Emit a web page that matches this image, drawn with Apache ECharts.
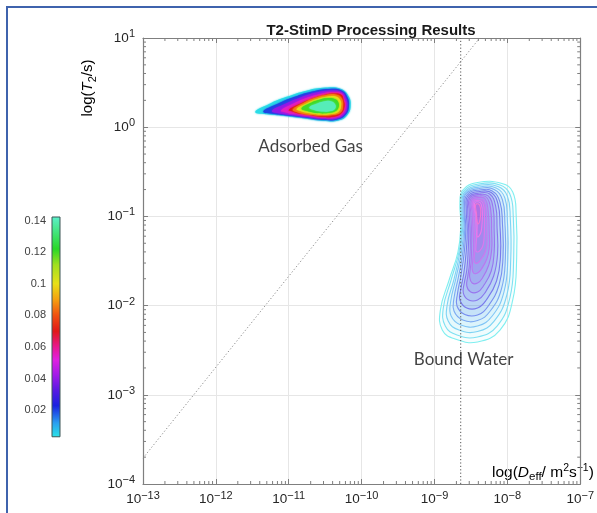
<!DOCTYPE html>
<html><head><meta charset="utf-8">
<script src="https://cdn.jsdelivr.net/npm/echarts@6/dist/echarts.min.js"></script>
<style>html,body{margin:0;padding:0;background:#fff}#c{width:597px;height:513px}</style>
</head><body><div id="c"></div>
<script>
// ---------------- data ----------------
const xDecades = [-13, -12, -11, -10, -9, -8, -7];      // log10(Deff) tick exponents
const yDecades = [-4, -3, -2, -1, 0, 1];                // log10(T2) tick exponents
const colorbarTicks = [0.02, 0.04, 0.06, 0.08, 0.1, 0.12, 0.14];
const colorbarRange = [0.003, 0.1425];
const colormapStops = [
  [0.003, '#2ae4e6'], [0.012, '#2a9ff0'], [0.023, '#1a22e0'], [0.033, '#5a1ae2'],
  [0.042, '#a01ae8'], [0.052, '#e020e0'], [0.060, '#e81890'], [0.070, '#e01818'],
  [0.080, '#f05010'], [0.090, '#f5a010'], [0.100, '#e8e018'], [0.112, '#a0e020'],
  [0.122, '#28d828'], [0.1425, '#5cf0cc']
];

// Adsorbed gas: filled contour levels, outlines in [log10 D, log10 T2]
const gasLevels = [0.004, 0.02, 0.04, 0.055, 0.07, 0.085, 0.1, 0.12, 0.14];
const gasContours = [
  [[-11.46,0.17],[-11.27,0.26],[-11.03,0.34],[-10.76,0.41],[-10.49,0.445],[-10.29,0.43],[-10.18,0.35],[-10.15,0.24],[-10.195,0.137],[-10.315,0.075],[-10.52,0.07],[-10.785,0.098],[-11.054,0.126],[-11.27,0.142]],
  [[-11.35,0.176],[-11.16,0.26],[-10.92,0.34],[-10.68,0.40],[-10.45,0.428],[-10.275,0.411],[-10.195,0.339],[-10.174,0.238],[-10.215,0.142],[-10.33,0.087],[-10.52,0.081],[-10.785,0.109],[-11.027,0.131],[-11.2,0.148]],
  [[-11.23,0.182],[-11.054,0.26],[-10.84,0.333],[-10.624,0.389],[-10.423,0.411],[-10.275,0.395],[-10.215,0.327],[-10.195,0.238],[-10.235,0.148],[-10.342,0.098],[-10.517,0.092],[-10.758,0.114],[-10.987,0.137],[-11.12,0.154]],
  [[-11.107,0.187],[-10.946,0.26],[-10.758,0.327],[-10.57,0.372],[-10.396,0.395],[-10.275,0.378],[-10.235,0.316],[-10.215,0.238],[-10.255,0.154],[-10.356,0.109],[-10.517,0.103],[-10.745,0.126],[-10.946,0.148],[-11.04,0.165]],
  [[-11.0,0.193],[-10.852,0.26],[-10.691,0.316],[-10.517,0.361],[-10.369,0.378],[-10.275,0.361],[-10.248,0.305],[-10.235,0.238],[-10.275,0.159],[-10.369,0.12],[-10.517,0.114],[-10.718,0.137],[-10.893,0.159],[-10.946,0.176]],
  [[-10.946,0.198],[-10.812,0.266],[-10.651,0.327],[-10.49,0.361],[-10.356,0.367],[-10.275,0.327],[-10.255,0.238],[-10.289,0.165],[-10.396,0.137],[-10.57,0.131],[-10.758,0.142],[-10.893,0.17]],
  [[-10.893,0.204],[-10.758,0.266],[-10.611,0.316],[-10.463,0.344],[-10.356,0.344],[-10.295,0.305],[-10.282,0.238],[-10.315,0.176],[-10.409,0.148],[-10.57,0.142],[-10.732,0.159],[-10.839,0.182]],
  [[-10.826,0.21],[-10.705,0.271],[-10.57,0.311],[-10.45,0.327],[-10.369,0.316],[-10.322,0.283],[-10.315,0.226],[-10.356,0.182],[-10.463,0.159],[-10.611,0.159],[-10.745,0.182]],
  [[-10.718,0.221],[-10.611,0.266],[-10.49,0.294],[-10.409,0.288],[-10.362,0.254],[-10.362,0.21],[-10.423,0.182],[-10.544,0.176],[-10.651,0.193]]
];

// Bound water: line contour levels, outlines in [log10 D, log10 T2]
const waterLevels = [0.003, 0.006, 0.009, 0.012, 0.016, 0.020, 0.024, 0.028, 0.032, 0.036, 0.040, 0.044, 0.048, 0.052, 0.056];
const waterContours = [
  [[-8.611,-0.704],[-8.409,-0.620],[-8.074,-0.631],[-7.926,-0.726],[-7.879,-0.984],[-7.872,-1.466],[-7.926,-1.937],[-8.101,-2.274],[-8.409,-2.408],[-8.718,-2.374],[-8.893,-2.274],[-8.919,-2.049],[-8.799,-1.713],[-8.678,-1.399],[-8.638,-1.096],[-8.651,-0.850]],
  [[-8.597,-0.715],[-8.396,-0.637],[-8.101,-0.648],[-7.966,-0.749],[-7.919,-0.996],[-7.913,-1.466],[-7.966,-1.915],[-8.141,-2.229],[-8.409,-2.352],[-8.691,-2.330],[-8.852,-2.229],[-8.879,-2.027],[-8.772,-1.713],[-8.664,-1.399],[-8.624,-1.096],[-8.638,-0.861]],
  [[-8.584,-0.726],[-8.396,-0.654],[-8.128,-0.665],[-8.000,-0.771],[-7.960,-1.018],[-7.953,-1.466],[-8.007,-1.881],[-8.181,-2.173],[-8.409,-2.291],[-8.664,-2.274],[-8.812,-2.173],[-8.826,-1.993],[-8.732,-1.702],[-8.651,-1.399],[-8.611,-1.108],[-8.624,-0.872]],
  [[-8.577,-0.738],[-8.383,-0.670],[-8.154,-0.682],[-8.034,-0.794],[-8.000,-1.040],[-7.993,-1.466],[-8.047,-1.848],[-8.208,-2.117],[-8.409,-2.229],[-8.638,-2.217],[-8.772,-2.117],[-8.779,-1.960],[-8.705,-1.691],[-8.631,-1.399],[-8.597,-1.119],[-8.611,-0.883]],
  [[-8.570,-0.749],[-8.383,-0.687],[-8.181,-0.698],[-8.067,-0.816],[-8.034,-1.063],[-8.027,-1.466],[-8.081,-1.814],[-8.235,-2.061],[-8.409,-2.167],[-8.611,-2.161],[-8.732,-2.061],[-8.732,-1.915],[-8.671,-1.679],[-8.611,-1.399],[-8.584,-1.130],[-8.597,-0.895]],
  [[-8.557,-0.760],[-8.383,-0.704],[-8.208,-0.715],[-8.101,-0.839],[-8.067,-1.085],[-8.060,-1.466],[-8.114,-1.769],[-8.262,-2.004],[-8.409,-2.105],[-8.584,-2.100],[-8.691,-2.004],[-8.685,-1.870],[-8.638,-1.668],[-8.591,-1.399],[-8.570,-1.141],[-8.584,-0.906]],
  [[-8.544,-0.771],[-8.383,-0.721],[-8.221,-0.732],[-8.128,-0.861],[-8.101,-1.108],[-8.094,-1.444],[-8.148,-1.724],[-8.289,-1.937],[-8.409,-2.027],[-8.557,-2.027],[-8.651,-1.937],[-8.638,-1.814],[-8.597,-1.635],[-8.564,-1.388],[-8.550,-1.152],[-8.564,-0.917]],
  [[-8.530,-0.783],[-8.383,-0.738],[-8.242,-0.749],[-8.161,-0.883],[-8.141,-1.130],[-8.134,-1.422],[-8.188,-1.668],[-8.309,-1.859],[-8.409,-1.937],[-8.530,-1.937],[-8.604,-1.859],[-8.591,-1.747],[-8.557,-1.601],[-8.537,-1.377],[-8.530,-1.164],[-8.544,-0.928]],
  [[-8.517,-0.794],[-8.383,-0.754],[-8.262,-0.771],[-8.195,-0.906],[-8.181,-1.152],[-8.181,-1.399],[-8.221,-1.612],[-8.329,-1.780],[-8.409,-1.848],[-8.503,-1.848],[-8.557,-1.780],[-8.544,-1.679],[-8.523,-1.556],[-8.510,-1.365],[-8.510,-1.175],[-8.523,-0.939]],
  [[-8.503,-0.805],[-8.383,-0.771],[-8.282,-0.788],[-8.228,-0.928],[-8.215,-1.175],[-8.215,-1.377],[-8.255,-1.545],[-8.342,-1.691],[-8.409,-1.747],[-8.483,-1.747],[-8.517,-1.679],[-8.510,-1.601],[-8.497,-1.500],[-8.490,-1.354],[-8.490,-1.186],[-8.503,-0.951]],
  [[-8.490,-0.816],[-8.383,-0.788],[-8.302,-0.805],[-8.262,-0.951],[-8.248,-1.175],[-8.248,-1.354],[-8.282,-1.478],[-8.356,-1.590],[-8.409,-1.635],[-8.463,-1.635],[-8.483,-1.578],[-8.477,-1.511],[-8.470,-1.433],[-8.463,-1.332],[-8.470,-1.197],[-8.483,-0.962]],
  [[-8.477,-0.827],[-8.383,-0.805],[-8.322,-0.827],[-8.289,-0.962],[-8.282,-1.175],[-8.282,-1.321],[-8.309,-1.410],[-8.369,-1.489],[-8.409,-1.522],[-8.443,-1.522],[-8.456,-1.478],[-8.450,-1.422],[-8.443,-1.365],[-8.443,-1.298],[-8.450,-1.209],[-8.463,-0.973]],
  [[-8.463,-0.839],[-8.383,-0.822],[-8.336,-0.850],[-8.315,-0.973],[-8.315,-1.152],[-8.322,-1.265],[-8.342,-1.343],[-8.383,-1.388],[-8.409,-1.399],[-8.430,-1.388],[-8.430,-1.332],[-8.423,-1.242],[-8.430,-1.119],[-8.443,-0.984]],
  [[-8.450,-0.855],[-8.389,-0.839],[-8.356,-0.872],[-8.342,-0.973],[-8.349,-1.096],[-8.362,-1.175],[-8.389,-1.220],[-8.409,-1.231],[-8.416,-1.209],[-8.416,-1.152],[-8.416,-1.085],[-8.430,-0.984]],
  [[-8.436,-0.872],[-8.396,-0.861],[-8.369,-0.906],[-8.369,-0.996],[-8.383,-1.063],[-8.403,-1.085],[-8.416,-1.052],[-8.423,-0.973]]
];

const diagonalLine = [[-13, -3.71], [-8.38, 1]];   // [log10 D, log10 T2]
const verticalLine = [[-8.64, -4], [-8.64, 1]];
const annotations = [
  { text: 'Adsorbed Gas', logD: -10.70, logT2: -0.22 },
  { text: 'Bound Water', logD: -8.60, logT2: -2.60 }
];

// ---------------- helpers ----------------
const P = e => Math.pow(10, e);
function rgbOf(c){
  if (c[0] === '#') return [parseInt(c.substr(1,2),16), parseInt(c.substr(3,2),16), parseInt(c.substr(5,2),16)];
  return c.replace(/[^\d,]/g, '').split(',').map(Number);
}
function mix(c1, c2, t){
  const a = rgbOf(c1), b = rgbOf(c2);
  return 'rgb(' + a.map((x, k) => Math.round(x + (b[k] - x) * t)).join(',') + ')';
}
function withAlpha(c, a){ return 'rgba(' + rgbOf(c).join(',') + ',' + a + ')'; }
function cmap(v){
  const s = colormapStops;
  if (v <= s[0][0]) return s[0][1];
  for (let i = 1; i < s.length; i++) {
    if (v <= s[i][0]) return mix(s[i-1][1], s[i][1], (v - s[i-1][0]) / (s[i][0] - s[i-1][0]));
  }
  return s[s.length-1][1];
}
const FONT = '"Liberation Sans", Arial, Helvetica, sans-serif';
const AX = '#7f7f7f';
const TXT = '#262626';
const expRich = {
  b: { fontSize: 13.5, fontFamily: FONT, color: TXT, lineHeight: 19 },
  s: { fontSize: 11, fontFamily: FONT, color: TXT, verticalAlign: 'top', lineHeight: 9 }
};
const expFmt = v => '{b|10}{s|' + String(Math.round(Math.log10(v))).replace('-', '\u2212') + '}';

function contourSeries(contours, levels, mode, z){
  return {
    type: 'custom', xAxisIndex: 0, yAxisIndex: 0, z: z, clip: true, silent: true,
    data: contours.map((c, i) => [P(c[0][0]), P(c[0][1]), i]),
    encode: { x: 0, y: 1 },
    renderItem: (params, api) => {
      const i = api.value(2);
      const pts = contours[i].map(p => api.coord([P(p[0]), P(p[1])]));
      const col = cmap(levels[i]);
      const style = mode === 'fill'
        ? { fill: col, shadowBlur: 2, shadowColor: col }
        : { fill: withAlpha(col, 0.035 + 0.005 * i), stroke: mix(col, '#ffffff', 0.4), lineWidth: 1.1 };
      return { type: 'polygon', shape: { points: pts, smooth: 0.45 }, style: style };
    }
  };
}

const xMinor = [], yMinor = [];
xDecades.slice(0, -1).forEach(d => { for (let m = 2; m <= 9; m++) xMinor.push([m * P(d), 1]); });
yDecades.slice(0, -1).forEach(d => { for (let m = 2; m <= 9; m++) yMinor.push([1e-10, m * P(d)]); });

function minorTickSeries(data, dir){
  return {
    type: 'custom', xAxisIndex: 0, yAxisIndex: 0, z: 5, silent: true, clip: false,
    data: data, encode: { x: 0, y: 1 },
    renderItem: (params, api) => {
      const p = api.coord([api.value(0), api.value(1)]);
      const cs = params.coordSys, st = { stroke: AX, lineWidth: 1 };
      if (dir === 'x') return { type: 'group', children: [
        { type: 'line', shape: { x1: p[0], y1: cs.y + cs.height, x2: p[0], y2: cs.y + cs.height - 3 }, style: st },
        { type: 'line', shape: { x1: p[0], y1: cs.y, x2: p[0], y2: cs.y + 3 }, style: st } ] };
      return { type: 'group', children: [
        { type: 'line', shape: { x1: cs.x, y1: p[1], x2: cs.x + 3, y2: p[1] }, style: st },
        { type: 'line', shape: { x1: cs.x + cs.width, y1: p[1], x2: cs.x + cs.width - 3, y2: p[1] }, style: st } ] };
    }
  };
}

const logAxisBase = (min, max) => ({
  type: 'log', logBase: 10, min: min, max: max, gridIndex: 0, splitNumber: 6,
  axisLine: { show: true, lineStyle: { color: AX, width: 1.2 } },
  axisTick: { show: true, inside: true, length: 5, lineStyle: { color: AX } },
  minorTick: { show: false }
});

const chart = echarts.init(document.getElementById('c'), null, { renderer: 'canvas' });
chart.setOption({
  animation: false,
  backgroundColor: '#fff',
  title: {
    text: 'T2-StimD Processing Results', left: 366, top: 18, textAlign: 'center',
    textStyle: { fontFamily: FONT, fontWeight: 'bold', fontSize: 15, color: '#1a1a1a' }
  },
  grid: [
    { left: 143, top: 38, width: 446, height: 446 },
    { left: 52, top: 217, width: 8, height: 224.5 }
  ],
  xAxis: [
    Object.assign(logAxisBase(1e-13, 1e-7), {
      position: 'bottom',
      splitLine: { show: true, lineStyle: { color: '#e6e6e6', width: 1 } },
      axisLabel: { formatter: expFmt, rich: expRich, margin: 6, showMinLabel: true, showMaxLabel: true, hideOverlap: false,
                   alignMinLabel: 'center', alignMaxLabel: 'center' }
    }),
    Object.assign(logAxisBase(1e-13, 1e-7), { position: 'top', axisLabel: { show: false }, splitLine: { show: false } }),
    { type: 'value', gridIndex: 1, min: 0, max: 1, show: false }
  ],
  yAxis: [
    Object.assign(logAxisBase(1e-4, 10), {
      position: 'left', splitNumber: 5,
      splitLine: { show: true, lineStyle: { color: '#e6e6e6', width: 1 } },
      axisLabel: { formatter: expFmt, rich: expRich, margin: 8, showMinLabel: true, showMaxLabel: true }
    }),
    Object.assign(logAxisBase(1e-4, 10), { position: 'right', splitNumber: 5, axisLabel: { show: false }, splitLine: { show: false } }),
    {
      type: 'value', gridIndex: 1, min: 0, max: colorbarRange[1], interval: 0.02, position: 'left',
      axisLine: { show: false }, splitLine: { show: false }, axisTick: { show: false },
      axisLabel: {
        margin: 6, fontSize: 11, fontFamily: FONT, color: '#404040',
        formatter: v => colorbarTicks.some(t => Math.abs(t - v) < 1e-9) ? String(+v.toFixed(2)) : ''
      }
    }
  ],
  series: [
    contourSeries(gasContours, gasLevels, 'fill', 3),
    contourSeries(waterContours, waterLevels, 'line', 3),
    {
      type: 'line', xAxisIndex: 0, yAxisIndex: 0, z: 4, silent: true, showSymbol: false,
      data: diagonalLine.map(p => [P(p[0]), P(p[1])]),
      lineStyle: { color: '#8a8a8a', width: 1, type: [1.2, 2.2] }
    },
    {
      type: 'line', xAxisIndex: 0, yAxisIndex: 0, z: 4, silent: true, showSymbol: false,
      data: verticalLine.map(p => [P(p[0]), P(p[1])]),
      lineStyle: { color: '#555555', width: 1, type: [1.2, 2.2] }
    },
    minorTickSeries(xMinor, 'x'),
    minorTickSeries(yMinor, 'y'),
    {
      type: 'scatter', xAxisIndex: 0, yAxisIndex: 0, z: 6, silent: true,
      symbolSize: 1, itemStyle: { color: 'rgba(0,0,0,0)' },
      data: annotations.map(a => ({ value: [P(a.logD), P(a.logT2)], name: a.text })),
      label: { show: true, position: 'inside', formatter: p => p.name, fontFamily: 'Lato, "Open Sans", sans-serif', fontSize: 17, color: '#111' }
    },
    {
      type: 'custom', xAxisIndex: 2, yAxisIndex: 2, silent: true, z: 3,
      data: [[0.5, colorbarRange[0]]], encode: { x: 0, y: 1 },
      renderItem: (params, api) => {
        const a = api.coord([0, colorbarRange[1]]), b = api.coord([1, colorbarRange[0]]);
        const span = colorbarRange[1] - colorbarRange[0];
        const stops = colormapStops.map(s => ({ offset: (s[0] - colorbarRange[0]) / span, color: s[1] }));
        return {
          type: 'rect',
          shape: { x: a[0], y: a[1], width: b[0] - a[0], height: b[1] - a[1] },
          style: { fill: new echarts.graphic.LinearGradient(0, 1, 0, 0, stops), stroke: '#3d5656', lineWidth: 1 }
        };
      }
    }
  ],
  graphic: [
    { type: 'rect', shape: { x: 7, y: 7, width: 640, height: 560 }, style: { fill: 'none', stroke: '#3f63ad', lineWidth: 2 }, z: 100 },
    {
      type: 'text', x: 88, y: 88, rotation: Math.PI / 2,
      style: {
        text: '{a|log(}{i|T}{sub|2}{a|/s)}', align: 'center', verticalAlign: 'middle',
        rich: {
          a: { fontSize: 15, fontFamily: FONT, color: TXT, lineHeight: 20 },
          i: { fontSize: 15, fontFamily: FONT, fontStyle: 'italic', color: TXT, lineHeight: 20 },
          sub: { fontSize: 11, fontFamily: FONT, color: TXT, verticalAlign: 'bottom', lineHeight: 9 }
        }
      }
    },
    {
      type: 'text', x: 492, y: 473,
      style: {
        text: '{a|log(}{i|D}{sub|eff}{a|/ m}{sup|2}{a|s}{sup|\u22121}{a|)}', align: 'left', verticalAlign: 'middle',
        rich: {
          a: { fontSize: 15.5, fontFamily: FONT, color: TXT, lineHeight: 20 },
          i: { fontSize: 15.5, fontFamily: FONT, fontStyle: 'italic', color: TXT, lineHeight: 20 },
          sub: { fontSize: 11.5, fontFamily: FONT, color: TXT, verticalAlign: 'bottom', lineHeight: 8 },
          sup: { fontSize: 10.5, fontFamily: FONT, color: TXT, verticalAlign: 'top', lineHeight: 8 }
        }
      }
    }
  ]
});
</script></body></html>
